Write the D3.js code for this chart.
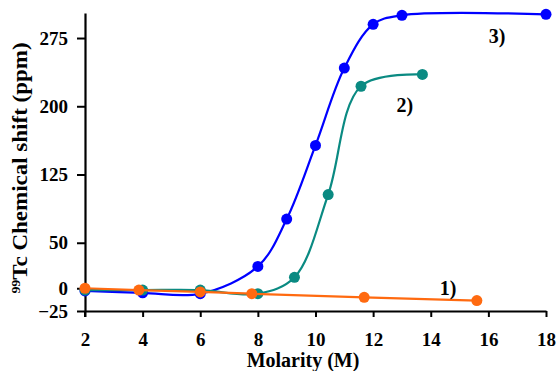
<!DOCTYPE html>
<html>
<head>
<meta charset="utf-8">
<script src="https://cdn.jsdelivr.net/npm/d3@7"></script>
<style>
  body { margin: 0; background: #fff; }
  text { font-family: "Liberation Serif", "Times New Roman", serif; font-weight: bold; }
</style>
</head>
<body>
<div id="chart"></div>
<script>
// data
var xTicks = [2, 4, 6, 8, 10, 12, 14, 16, 18];
var yTicks = [-25, 0, 50, 125, 200, 275];

var s3Molarity = [2, 4, 6, 8, 9, 10, 11, 12, 13, 18];
var s3Shift = [-3, -5, -6, 24, 76, 157, 242, 290, 300, 301];

var s2Molarity = [2, 4, 6, 8, 9.27, 10.44, 11.58, 13.71];
var s2Shift = [-2, -2, -2, -6, 12, 103, 222, 235];

var s1Molarity = [2, 3.87, 6, 7.79, 11.69, 15.6];
var s1Shift = [0, -2, -4, -6, -10, -13.5];

var labels = [
    { text: "3)", x: 16.3, y: 270 },
    { text: "2)", x: 13.1, y: 194 },
    { text: "1)", x: 14.6, y: -7 }
];

// set the dimensions and margins of the graph
var width = 558, height = 371;
var margin = { top: 13, right: 12, bottom: 60, left: 85 };

var svg = d3.select("#chart")
    .append("svg")
    .attr("width", width)
    .attr("height", height);

var x = d3.scaleLinear()
    .domain([2, 18])
    .range([margin.left, width - margin.right]);

var y = d3.scaleLinear()
    .domain([-25, 302.5])
    .range([height - margin.bottom, margin.top]);

// X axis
var xAxis = svg.append("g")
    .attr("transform", "translate(0," + y(-25) + ")")
    .call(d3.axisBottom(x).tickValues(xTicks).tickSizeInner(6).tickSizeOuter(0).tickPadding(16));
xAxis.select(".domain").attr("stroke-width", 2.2);
xAxis.selectAll(".tick line").attr("stroke-width", 2);
xAxis.selectAll("text").attr("font-size", 19).attr("fill", "#000");

// Y axis
var yAxis = svg.append("g")
    .attr("transform", "translate(" + x(2) + ",0)")
    .call(d3.axisLeft(y).tickValues(yTicks).tickSizeInner(8).tickSizeOuter(0).tickPadding(9));
yAxis.select(".domain").attr("stroke-width", 2.2);
yAxis.selectAll(".tick line").attr("stroke-width", 2);
yAxis.selectAll("text").attr("font-size", 19).attr("fill", "#000");

// little stub of the y axis below the x axis
svg.append("line")
    .attr("x1", x(2)).attr("x2", x(2))
    .attr("y1", y(-25)).attr("y2", y(-25) + 6)
    .attr("stroke", "#000").attr("stroke-width", 2);

// axis titles
svg.append("text")
    .attr("x", 303)
    .attr("y", 367)
    .attr("text-anchor", "middle")
    .attr("font-size", 20)
    .text("Molarity (M)");

var yTitle = svg.append("text")
    .attr("transform", "translate(27,168) rotate(-90) scale(1.15,1)")
    .attr("text-anchor", "middle")
    .attr("font-size", 20);
yTitle.append("tspan").attr("font-size", 12).attr("dy", -7).text("99");
yTitle.append("tspan").attr("dy", 7).text("Tc Chemical shift (ppm)");

function drawSeries(xs, ys, color, curve) {
    var pts = xs.map(function(d, i) { return [d, ys[i]]; });
    svg.append("path")
        .datum(pts)
        .attr("fill", "none")
        .attr("stroke", color)
        .attr("stroke-width", 2.2)
        .attr("d", d3.line()
            .x(function(d) { return x(d[0]); })
            .y(function(d) { return y(d[1]); })
            .curve(curve));
    svg.append("g")
        .selectAll("circle")
        .data(pts)
        .enter()
        .append("circle")
        .attr("cx", function(d) { return x(d[0]); })
        .attr("cy", function(d) { return y(d[1]); })
        .attr("r", 5.5)
        .attr("fill", color);
}

drawSeries(s3Molarity, s3Shift, "#0000ff", d3.curveCatmullRom.alpha(0.5));
drawSeries(s2Molarity, s2Shift, "#0a8a82", d3.curveCatmullRom.alpha(0.5));
drawSeries(s1Molarity, s1Shift, "#ff6a10", d3.curveLinear);

// series labels
svg.append("g")
    .selectAll("text")
    .data(labels)
    .enter()
    .append("text")
    .attr("x", function(d) { return x(d.x); })
    .attr("y", function(d) { return y(d.y); })
    .attr("text-anchor", "middle")
    .attr("font-size", 20)
    .text(function(d) { return d.text; });
</script>
</body>
</html>
